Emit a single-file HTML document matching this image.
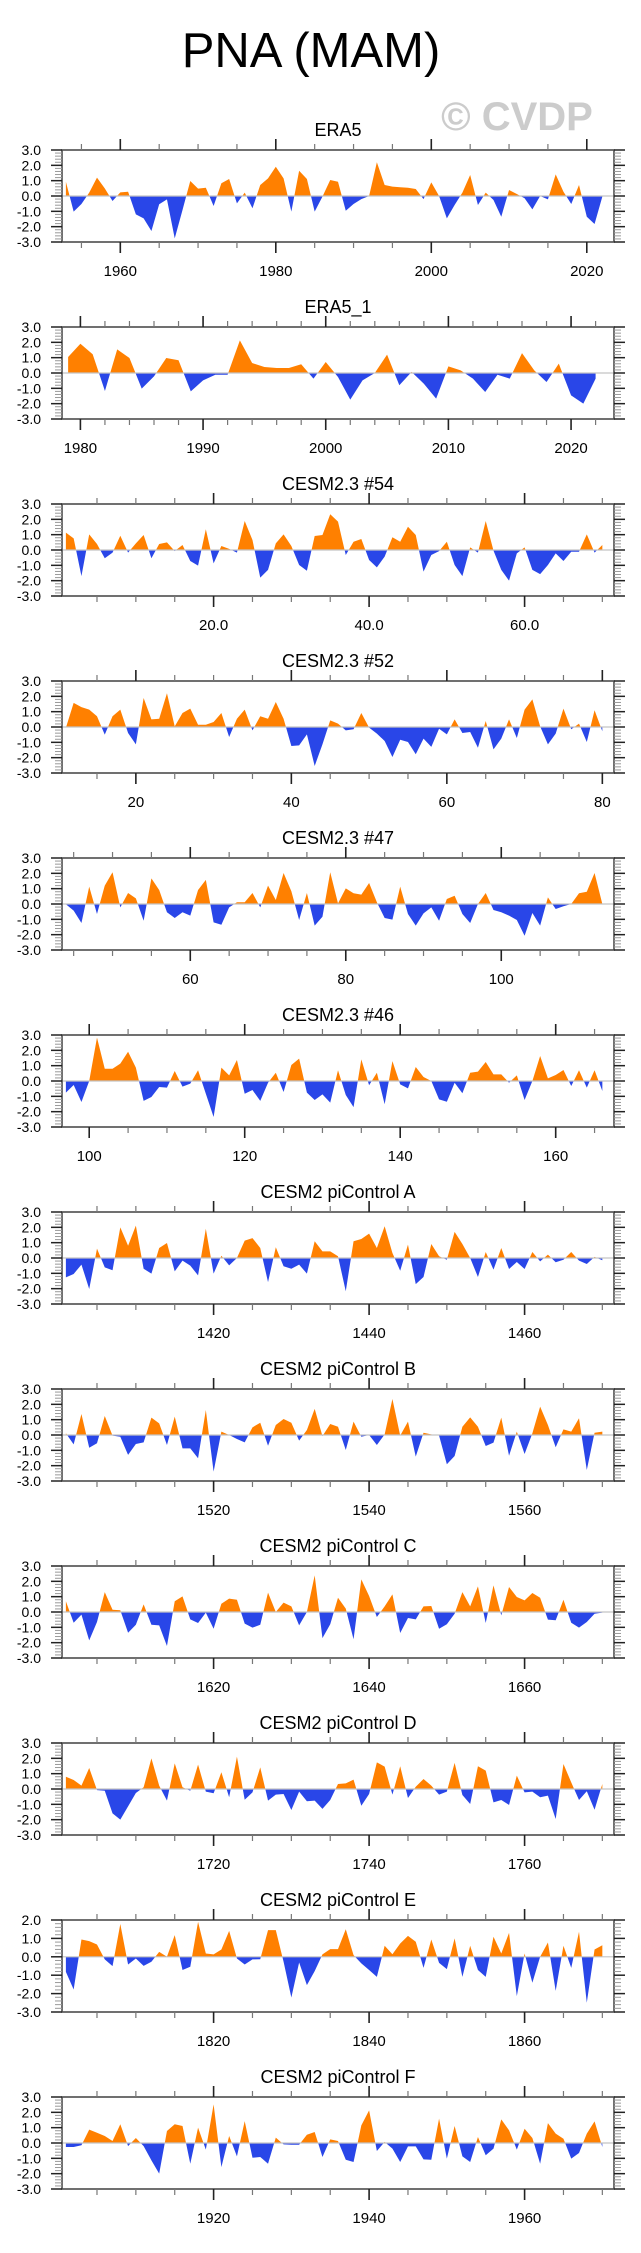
<!DOCTYPE html>
<html><head><meta charset="utf-8"><title>PNA (MAM)</title>
<style>
html,body{margin:0;padding:0;background:#fff;}
svg{display:block;font-family:"Liberation Sans",Arial,sans-serif;}
</style></head>
<body>
<svg id="fig" width="641" height="2253" viewBox="0 0 641 2253" xmlns="http://www.w3.org/2000/svg">
<rect x="0" y="0" width="641" height="2253" fill="#fff"/>
<text x="311" y="67" font-size="49" text-anchor="middle" fill="#000">PNA (MAM)</text>
<text x="517" y="130" font-size="40" font-weight="bold" text-anchor="middle" fill="#cccccc">© CVDP</text>
<g id="panels"></g>
</svg>
<script>
const titles = ["ERA5","ERA5_1","CESM2.3 #54","CESM2.3 #52","CESM2.3 #47","CESM2.3 #46","CESM2 piControl A","CESM2 piControl B","CESM2 piControl C","CESM2 piControl D","CESM2 piControl E","CESM2 piControl F"];
const startYears = [1953,1979,1,11,44,97,1401,1501,1601,1701,1801,1901];
const valuesEra5 = [0.93,-1.02,-0.52,0.22,1.2,0.5,-0.33,0.24,0.28,-1.2,-1.46,-2.28,-0.54,-0.22,-2.76,-0.91,0.98,0.48,0.54,-0.65,0.83,1.11,-0.48,0.22,-0.8,0.72,1.15,1.91,1.15,-1.02,1.65,1.11,-1.02,-0.04,1.04,0.93,-0.96,-0.52,-0.2,0,2.2,0.72,0.61,0.57,0.54,0.46,-0.2,0.89,0,-1.46,-0.59,0.22,1.37,-0.59,0.22,-0.26,-1.35,0.39,0.13,-0.15,-0.87,0,-0.22,1.41,0.28,-0.52,0.72,-1.35,-1.83,-0.04];
const valuesEra5_1 = [1.04,1.91,1.22,-1.17,1.54,0.98,-1.02,-0.22,0.98,0.83,-1.2,-0.48,-0.11,-0.11,2.13,0.65,0.39,0.33,0.33,0.57,-0.37,0.72,-0.26,-1.74,-0.48,0,1.2,-0.8,0.07,-0.7,-1.67,0.43,0.17,-0.37,-1.24,-0.11,-0.37,1.3,0.17,-0.59,0.61,-1.46,-2.0,-0.37];
const valuesCesm54 = [1.13,0.76,-1.7,1.02,0.39,-0.54,-0.17,0.93,-0.17,0.43,0.98,-0.54,0.39,0.5,-0.07,0.33,-0.72,-1.02,1.35,-0.87,0.26,0.07,-0.17,1.89,0.65,-1.8,-1.3,0.43,1.02,0.26,-0.98,-1.35,0.91,0.98,2.33,1.85,-0.33,0.54,0.72,-0.65,-1.13,-0.43,0.83,0.54,1.52,0.98,-1.41,-0.33,-0.07,0.54,-0.98,-1.7,0.17,-0.17,1.89,-0.04,-1.3,-2.0,-0.22,0.17,-1.3,-1.57,-0.98,-0.22,-0.72,-0.11,-0.11,1.02,-0.17,0.33];
const valuesCesm52 = [-0.05,1.57,1.3,1.13,0.7,-0.5,0.7,1.13,-0.39,-1.13,1.89,0.5,0.54,2.2,0.04,0.91,1.2,0.15,0.15,0.33,0.91,-0.65,0.54,1.13,-0.22,0.7,0.54,1.63,0.54,-1.24,-1.2,-0.48,-2.54,-1.13,0.43,0.22,-0.22,-0.15,0.91,-0.04,-0.43,-0.91,-1.96,-0.83,-0.98,-1.78,-0.76,-1.3,-0.11,-0.48,0.5,-0.39,-0.33,-1.35,0.39,-1.46,-0.76,0.5,-0.72,1.13,1.8,0.04,-1.13,-0.43,1.2,-0.15,0.22,-0.98,1.09,-0.28];
const valuesCesm47 = [-0.02,-0.43,-1.24,1.13,-0.65,1.2,2.07,-0.22,0.72,0.37,-1.09,1.67,0.91,-0.54,-0.91,-0.54,-0.76,0.91,1.57,-1.2,-1.35,-0.22,0.11,0.11,0.72,-0.22,1.2,0.26,2.02,0.83,-1.04,0.72,-1.41,-0.83,2.07,0.04,1.02,0.7,0.61,1.37,0.11,-0.91,-1.02,1.13,-0.65,-1.41,-0.61,-0.22,-1.09,0.33,0.54,-0.65,-1.24,0,0.72,-0.39,-0.54,-0.76,-1.04,-2.07,-0.59,-1.41,0.43,-0.33,-0.15,0,0.7,0.8,2.02,0];
const valuesCesm46 = [-0.76,-0.26,-1.37,0,2.83,0.8,0.8,1.13,1.91,0.87,-1.3,-1.04,-0.39,-0.43,0.65,-0.37,-0.17,0.7,-0.83,-2.35,0.87,0.37,1.37,-0.83,-0.59,-1.3,-0.11,0.54,-0.72,1.04,1.46,-0.76,-1.24,-0.87,-1.41,0.7,-0.91,-1.7,1.41,-0.28,0.54,-1.52,1.3,-0.22,-0.48,0.91,0.26,0,-1.2,-1.35,-0.11,-0.8,0.54,0.61,1.24,0.43,0.43,-0.11,0.37,-1.24,0,1.63,0.17,0.39,0.72,-0.33,0.7,-0.43,0.7,-0.65];
const valuesPiA = [-1.26,-1.04,-0.43,-2.02,0.61,-0.61,-0.8,2.0,0.8,2.11,-0.7,-1.02,0.65,0.98,-0.87,-0.17,-0.5,-1.13,1.91,-1.02,0.15,-0.48,0,1.13,1.3,0.65,-1.57,0.7,-0.54,-0.7,-0.43,-1.02,1.09,0.43,0.43,0.11,-2.17,1.09,1.24,1.59,0.65,2.07,0.33,-0.83,0.87,-1.7,-1.24,0.91,0.11,-0.11,1.7,0.91,0,-1.24,0.39,-0.76,0.65,-0.72,-0.26,-0.72,0.39,-0.22,0.22,-0.28,-0.11,0.39,-0.17,-0.39,0.07,-0.15];
const valuesPiB = [0.11,-0.61,1.37,-0.83,-0.54,1.24,-0.04,-0.11,-1.3,-0.59,-0.48,1.13,0.76,-0.65,1.2,-0.87,-0.87,-1.52,1.63,-2.39,0.22,0,-0.26,-0.48,0.5,0.8,-0.7,0.65,1.04,0.8,-0.37,0.33,1.7,-0.07,0.72,0.54,-0.98,0.87,-0.11,0,-0.65,0.04,2.35,-0.04,0.87,-1.41,0.15,0.04,-0.04,-1.91,-1.37,0.54,1.15,0.54,-0.72,-0.5,1.13,-1.35,0.22,-1.24,0.11,1.85,0.65,-0.8,0.37,0.22,1.09,-2.28,0.15,0.22];
const valuesPiC = [0.7,-0.7,-0.17,-1.85,-0.65,1.3,0.15,0.11,-1.35,-0.83,0.5,-0.83,-0.87,-2.22,0.7,1.02,-0.48,-0.72,-0.04,-1.09,0.54,0.87,0.8,-0.76,-1.02,-0.83,1.26,0,0.61,0.37,-0.87,0,2.39,-1.7,-0.8,0.93,0.22,-1.78,2.13,1.04,-0.33,0.37,1.15,-1.37,-0.39,-0.48,0.37,0.39,-1.09,-0.8,-0.11,1.3,0.37,1.67,-0.72,1.74,-0.22,1.63,0.98,0.76,1.24,0.93,-0.5,-0.54,0.8,-0.7,-1.02,-0.65,-0.11,-0.04];
const valuesPiD = [0.8,0.59,0.22,1.37,-0.07,-0.11,-1.59,-2.0,-1.13,-0.26,0.11,2.0,0.22,-0.76,1.67,0.11,-0.11,1.59,-0.17,-0.28,1.09,-0.54,2.11,-0.7,-0.22,1.41,-0.76,-0.37,-0.33,-1.37,-0.17,-0.8,-0.76,-1.3,-0.72,0.33,0.37,0.61,-1.09,-0.33,1.74,1.46,-0.37,1.48,-0.59,0.15,0.65,0.22,-0.37,-0.17,1.7,-0.39,-0.98,1.48,1.2,-0.87,-0.72,-1.04,0.87,-0.22,-0.17,-0.54,-0.43,-1.96,1.63,0.43,-0.72,-0.15,-1.35,0.33];
const valuesPiE = [-0.82,-1.78,0.94,0.85,0.67,-0.14,-0.51,1.78,-0.42,-0.09,-0.49,-0.27,0.27,0,1.18,-0.72,-0.54,1.9,0.18,0.13,0.4,1.41,-0.09,-0.42,-0.14,-0.13,1.45,1.45,-0.27,-2.21,-0.31,-1.54,-0.78,0.13,0.42,0.42,1.5,0.09,-0.36,-0.72,-1.09,0.6,0.14,0.72,1.14,0.82,-0.6,0.94,-0.33,-0.67,1.0,-1.09,0.6,-0.72,-1.09,1.09,0.18,1.3,-2.14,0.18,-1.41,0,0.78,-1.85,0.6,-0.6,1.36,-2.5,0.4,0.63];
const valuesPiF = [-0.26,-0.26,-0.15,0.87,0.67,0.46,0.13,1.22,-0.2,0.33,-0.2,-1.13,-2.0,0.78,1.22,1.11,-1.35,1.0,-0.43,2.52,-1.57,0.46,-0.87,1.43,-0.96,-0.91,-1.35,0.35,-0.09,-0.11,-0.11,0.54,0.72,-0.91,0.24,0.13,-1.09,-1.24,1.15,2.13,-0.52,0.07,-0.37,-1.24,-0.22,-0.22,-1.07,-1.09,1.59,-1.02,1.11,-0.87,-1.24,0.39,-0.8,-0.37,1.54,0.83,-0.43,0.93,0.33,-1.35,1.3,0.61,0.28,-1.02,-0.65,0.61,1.41,-0.26];
const seriesValues = [valuesEra5,valuesEra5_1,valuesCesm54,valuesCesm52,valuesCesm47,valuesCesm46,valuesPiA,valuesPiB,valuesPiC,valuesPiD,valuesPiE,valuesPiF];
const yMins = [-3,-3,-3,-3,-3,-3,-3,-3,-3,-3,-3,-3];
const yMaxs = [3,3,3,3,3,3,3,3,3,3,2,3];
const majorTickValues = [[1960,1980,2000,2020],[1980,1990,2000,2010,2020],[20,40,60],[20,40,60,80],[60,80,100],[100,120,140,160],[1420,1440,1460],[1520,1540,1560],[1620,1640,1660],[1720,1740,1760],[1820,1840,1860],[1920,1940,1960]];
const majorTickLabels = [["1960","1980","2000","2020"],["1980","1990","2000","2010","2020"],["20.0","40.0","60.0"],["20","40","60","80"],["60","80","100"],["100","120","140","160"],["1420","1440","1460"],["1520","1540","1560"],["1620","1640","1660"],["1720","1740","1760"],["1820","1840","1860"],["1920","1940","1960"]];
const minorStep = [5,2,5,5,5,5,5,5,5,5,5,5];

const NS = "http://www.w3.org/2000/svg";
const root = document.getElementById("panels");
const L = 62, R = 614, H = 92, TOP0 = 150, STEP = 177;
const ORANGE = "#ff8000", BLUE = "#2946e8", FRAME = "#4d4d4d";
function mk(tag, attrs, parent){
  const e = document.createElementNS(NS, tag);
  for (const k in attrs) e.setAttribute(k, attrs[k]);
  parent.appendChild(e);
  return e;
}
function fmt(n){ return (Math.abs(n) < 1e-9 ? 0 : n).toFixed(1); }

for (let p = 0; p < titles.length; p++) {
  const vals = seriesValues[p];
  const t0 = startYears[p];
  const t1 = t0 + vals.length - 1;
  const xmin = t0 - 0.5, xmax = t1 + 1.5;
  const ymin = yMins[p], ymax = yMaxs[p];
  const top = TOP0 + p * STEP, bot = top + H;
  const xs = v => L + (v - xmin) / (xmax - xmin) * (R - L);
  const ys = v => bot - (v - ymin) / (ymax - ymin) * H;

  const g = mk("g", {}, root);
  
  

  const title = mk("text", {x: (L + R) / 2, y: top - 14, "font-size": 18, "text-anchor": "middle", fill: "#000"}, g);
  
  
  title.textContent = titles[p];

  // clip paths
  const y0 = ys(0);
  const defs = mk("defs", {}, g);
  const cpU = mk("clipPath", {id: "up" + p}, defs);
  mk("rect", {x: L, y: top, width: R - L, height: y0 - top}, cpU);
  const cpD = mk("clipPath", {id: "dn" + p}, defs);
  mk("rect", {x: L, y: y0, width: R - L, height: bot - y0}, cpD);

  let d = "M" + xs(t0).toFixed(2) + "," + y0.toFixed(2);
  for (let i = 0; i < vals.length; i++) d += " L" + xs(t0 + i).toFixed(2) + "," + ys(vals[i]).toFixed(2);
  d += " L" + xs(t1).toFixed(2) + "," + y0.toFixed(2) + " Z";
  const pos = mk("path", {d: d, fill: ORANGE, "clip-path": "url(#up" + p + ")"}, g);
  
  
  const neg = mk("path", {d: d, fill: BLUE, "clip-path": "url(#dn" + p + ")"}, g);
  
  

  const zl = mk("line", {x1: L, x2: R, y1: y0, y2: y0, stroke: "#c4c4c4", "stroke-width": 1.2}, g);
  
  

  const fr = mk("rect", {x: L, y: top, width: R - L, height: H, fill: "none", stroke: FRAME, "stroke-width": 1.6}, g);
  
  

  // x ticks
  const majors = majorTickValues[p];
  const ms = minorStep[p];
  for (let v = Math.ceil(xmin / ms) * ms; v <= xmax; v += ms) {
    if (majors.indexOf(v) >= 0) continue;
    const x = xs(v);
    mk("line", {x1: x, x2: x, y1: top, y2: top - 6, stroke: "#777", "stroke-width": 1.2}, g);
    mk("line", {x1: x, x2: x, y1: bot, y2: bot + 6, stroke: "#777", "stroke-width": 1.2}, g);
  }
  for (let i = 0; i < majors.length; i++) {
    const x = xs(majors[i]);
    mk("line", {x1: x, x2: x, y1: top, y2: top - 11, stroke: "#222", "stroke-width": 1.6}, g);
    mk("line", {x1: x, x2: x, y1: bot, y2: bot + 11, stroke: "#222", "stroke-width": 1.6}, g);
    const lb = mk("text", {x: x, y: bot + 34, "font-size": 15, "text-anchor": "middle", fill: "#000"}, g);
    
    
    lb.textContent = majorTickLabels[p][i];
  }
  // y ticks
  for (let k = 0; k <= (ymax - ymin) * 5; k++) {
    const v = ymin + k * 0.2;
    const y = ys(v);
    if (k % 5 === 0) {
      mk("line", {x1: L, x2: L - 11, y1: y, y2: y, stroke: "#222", "stroke-width": 1.5}, g);
      mk("line", {x1: R, x2: R + 11, y1: y, y2: y, stroke: "#222", "stroke-width": 1.5}, g);
      const yl = mk("text", {x: 41, y: y + 5, "font-size": 14, "text-anchor": "end", fill: "#000"}, g);
      
      
      yl.textContent = fmt(v);
    } else {
      mk("line", {x1: L, x2: L - 7, y1: y, y2: y, stroke: "#999", "stroke-width": 1}, g);
      mk("line", {x1: R, x2: R + 7, y1: y, y2: y, stroke: "#999", "stroke-width": 1}, g);
    }
  }
}
</script>
</body></html>
